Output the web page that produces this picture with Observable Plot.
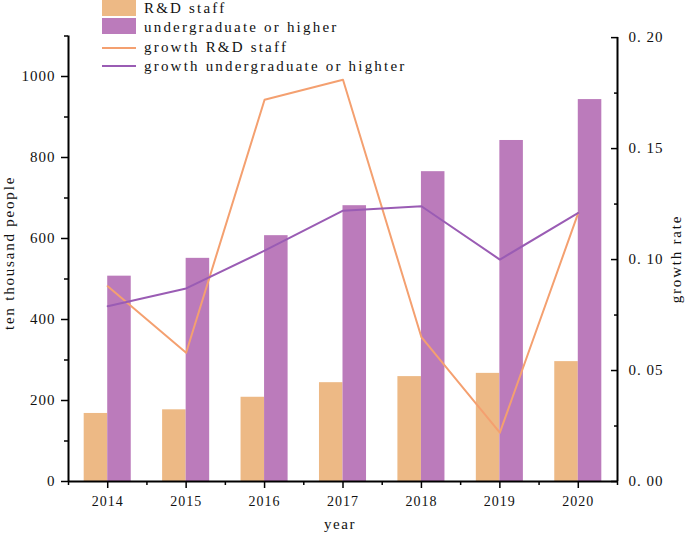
<!DOCTYPE html>
<html><head><meta charset="utf-8">
<script src="https://cdn.jsdelivr.net/npm/d3@7"></script>
<script src="https://cdn.jsdelivr.net/npm/@observablehq/plot@0.6"></script>
<style>body{margin:0;background:#fff} #chart{width:685px;height:534px}</style>
</head><body><div id="chart"></div>
<script>
const years = [2014, 2015, 2016, 2017, 2018, 2019, 2020];
const rdStaff = [168, 177, 208, 244, 259, 267, 296];
const undergrad = [507, 551, 607, 681, 765, 842, 943];
const growthRD = [0.088, 0.058, 0.172, 0.181, 0.065, 0.022, 0.121];
const growthUG = [0.079, 0.087, 0.104, 0.122, 0.124, 0.100, 0.121];
const leftTicks = [0, 200, 400, 600, 800, 1000];
const leftMinor = [100, 300, 500, 700, 900, 1100];
const rightTicks = [0, 0.05, 0.10, 0.15, 0.20];
const rightMinor = [0.025, 0.075, 0.125, 0.175];
const xMinor = [2013.5, 2014.5, 2015.5, 2016.5, 2017.5, 2018.5, 2019.5, 2020.5];
const seriesNames = ["R&D staff", "undergraduate or higher", "growth R&D staff", "growth undergraduate or highter"];
const colors = {rd: "#EDB985", ug: "#BB7BBB", grd: "#F4A070", gug: "#9A5CB4"};

const K = 5480; // right axis (growth rate) mapped onto left scale
const xLo = 2013.5, xHi = 2020.5, yTop = 1100;
const data = years.map((y, i) => ({year: y, rd: rdStaff[i], ug: undergrad[i], grd: growthRD[i], gug: growthUG[i]}));
const font = "'Liberation Serif', 'DejaVu Serif', serif";

const plot = Plot.plot({
  width: 685, height: 534,
  marginLeft: 68, marginRight: 68, marginTop: 35.5, marginBottom: 53,
  style: {fontFamily: font, fontSize: "15px", letterSpacing: "1px", color: "#111", background: "#fff"},
  x: {domain: [xLo, xHi], label: null},
  y: {domain: [0, yTop], label: null},
  marks: [
    Plot.rectY(data, {x1: d => d.year - 0.3, x2: "year", y: "rd", fill: colors.rd}),
    Plot.rectY(data, {x1: "year", x2: d => d.year + 0.3, y: "ug", fill: colors.ug}),
    Plot.line(data, {x: "year", y: d => d.grd * K, stroke: colors.grd, strokeWidth: 2}),
    Plot.line(data, {x: "year", y: d => d.gug * K, stroke: colors.gug, strokeWidth: 2}),
    Plot.ruleX([xLo], {y1: 0, y2: yTop, stroke: "#000", strokeWidth: 2}),
    Plot.ruleX([xHi], {y1: 0, y2: rightTicks[rightTicks.length - 1] * K, stroke: "#000", strokeWidth: 2}),
    Plot.ruleY([0], {x1: xLo, x2: xHi, stroke: "#000", strokeWidth: 2}),
    Plot.axisY(leftTicks, {anchor: "left", tickSize: 7, tickPadding: 6, stroke: "#000", strokeWidth: 1.5, tickFormat: d => String(d)}),
    Plot.axisY(leftMinor, {anchor: "left", tickSize: 4, stroke: "#000", strokeWidth: 1.5, tickFormat: () => ""}),
    Plot.axisY(rightTicks.map(v => v * K), {anchor: "right", tickSize: 7, dx: -7, stroke: "#000", strokeWidth: 1.5, tickFormat: () => ""}),
    Plot.axisY(rightMinor.map(v => v * K), {anchor: "right", tickSize: 4, dx: -4, stroke: "#000", strokeWidth: 1.5, tickFormat: () => ""}),
    Plot.axisY(rightTicks.map(v => v * K), {anchor: "right", tickSize: 0, tickPadding: 11, tickFormat: v => (v / K).toFixed(2).replace(".", ". ")}),
    Plot.axisX(years, {anchor: "bottom", tickSize: 7, tickPadding: 8, stroke: "#000", strokeWidth: 1.5, fontSize: 14, tickFormat: d => String(d)}),
    Plot.axisX(xMinor, {anchor: "bottom", tickSize: 4, stroke: "#000", strokeWidth: 1.5, tickFormat: () => ""})
  ]
});
document.getElementById("chart").appendChild(plot);

// legend and axis titles
const svg = d3.select(plot);
const g = svg.append("g").attr("font-family", font).attr("font-size", 15).attr("fill", "#111");
g.append("rect").attr("x", 102).attr("y", 0).attr("width", 34).attr("height", 16).attr("fill", colors.rd);
g.append("rect").attr("x", 102).attr("y", 18).attr("width", 34).attr("height", 16).attr("fill", colors.ug);
g.append("line").attr("x1", 102).attr("x2", 136).attr("y1", 48).attr("y2", 48).attr("stroke", colors.grd).attr("stroke-width", 2);
g.append("line").attr("x1", 102).attr("x2", 136).attr("y1", 66).attr("y2", 66).attr("stroke", colors.gug).attr("stroke-width", 2);
[8, 27, 47, 66].forEach((yy, i) => {
  g.append("text").attr("x", 144).attr("y", yy).attr("dy", "0.35em").attr("text-anchor", "start")
    .style("letter-spacing", "2.2px").text(seriesNames[i]);
});
g.append("text").attr("x", 340).attr("y", 524).attr("dy", "0.35em").attr("text-anchor", "middle").style("letter-spacing", "1.5px").text("year");
g.append("text").attr("transform", "translate(9,253) rotate(-90)").attr("dy", "0.35em").attr("text-anchor", "middle").style("letter-spacing", "1.8px").text("ten thousand people");
g.append("text").attr("transform", "translate(676,259) rotate(-90)").attr("dy", "0.35em").attr("text-anchor", "middle").style("letter-spacing", "1.8px").text("growth rate");
</script>
</body></html>
